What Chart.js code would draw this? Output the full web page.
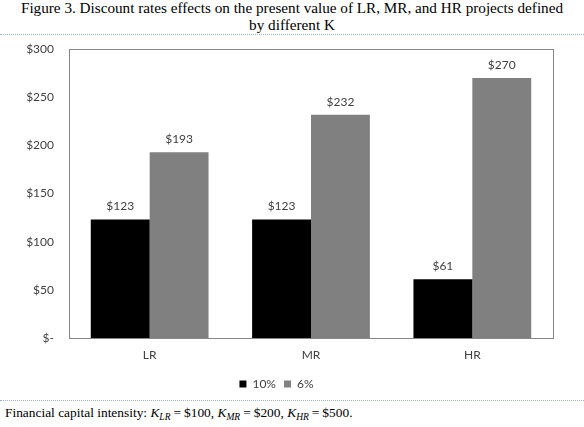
<!DOCTYPE html>
<html><head><meta charset="utf-8">
<script src="https://cdn.jsdelivr.net/npm/chart.js@4.4.1/dist/chart.umd.min.js"></script>
<style>
html,body{margin:0;padding:0;background:#fff;}
#wrap{position:relative;width:584px;height:427px;overflow:hidden;}
#title{position:absolute;left:0;top:-1px;width:584px;text-align:center;font-family:"Liberation Serif",serif;font-size:15.2px;line-height:17px;color:#000;}
.dots{position:absolute;left:0;width:584px;height:0;border-top:1px dotted #9fb3c8;}
#cv{position:absolute;left:0;top:27px;}
#foot{position:absolute;left:5px;top:405px;font-family:"Liberation Serif",serif;font-size:13.4px;line-height:16px;color:#000;white-space:nowrap;}
#foot sub{font-size:9.5px;vertical-align:-3px;line-height:0;}
.eq{margin:0 3px;}
</style></head>
<body><div id="wrap">
<div id="title">Figure 3. Discount rates effects on the present value of LR, MR, and HR projects defined<br>by different K</div>
<canvas id="cv" width="584" height="373"></canvas>
<div class="dots" style="top:34px"></div>
<div class="dots" style="top:400px"></div>
<div id="foot">Financial capital intensity: <i>K</i><sub><i>LR</i></sub><span class="eq">=</span>$100, <i>K</i><sub><i>MR</i></sub><span class="eq">=</span>$200, <i>K</i><sub><i>HR</i></sub><span class="eq">=</span>$500.</div>
</div>
<script>
const categories = ["LR", "MR", "HR"];
const seriesNames = ["10%", "6%"];
const rate10 = [123, 123, 61];
const rate6 = [193, 232, 270];
const yTicks = [0, 50, 100, 150, 200, 250, 300];

function money(v){ return v === 0 ? "$-" : "$" + v; }

const boxPlugin = {
  id: "box",
  afterDatasetsDraw(chart){
    const {ctx, chartArea:a} = chart;
    ctx.save();
    ctx.strokeStyle = "#868686";
    ctx.lineWidth = 1;
    ctx.strokeRect(Math.round(a.left)+0.5, Math.round(a.top)+0.5, Math.round(a.right-a.left), Math.round(a.bottom-a.top));
    ctx.fillStyle = "#404040";
    ctx.font = "12px Lato";
    ctx.textAlign = "center";
    ctx.textBaseline = "bottom";
    chart.data.datasets.forEach((ds, i) => {
      chart.getDatasetMeta(i).data.forEach((bar, j) => {
        ctx.fillText(money(ds.data[j]), bar.x, bar.y - 7);
      });
    });
    ctx.restore();
  }
};

new Chart(document.getElementById("cv"), {
  type: "bar",
  data: {
    labels: categories,
    datasets: [
      {label: seriesNames[0], data: rate10, backgroundColor: "#000000", categoryPercentage: 0.73, barPercentage: 1.0},
      {label: seriesNames[1], data: rate6, backgroundColor: "#808080", categoryPercentage: 0.73, barPercentage: 1.0}
    ]
  },
  options: {
    responsive: false,
    animation: false,
    devicePixelRatio: 1,
    layout: {padding: {top: 9, right: 31, left: 0, bottom: 0}},
    plugins: {
      tooltip: {enabled: false},
      title: {display: false},
      legend: {
        position: "bottom",
        labels: {boxWidth: 7, boxHeight: 7, padding: 8, color: "#404040", font: {family: "Lato", size: 12}}
      }
    },
    scales: {
      x: {
        grid: {display: false, drawTicks: false},
        border: {display: false},
        ticks: {color: "#404040", font: {family: "Lato", size: 12}, padding: 10},
        afterFit(s){ s.height = 32; }
      },
      y: {
        min: 0, max: 300,
        afterBuildTicks(s){ s.ticks = yTicks.map(v => ({value: v})); },
        grid: {display: false, drawTicks: false},
        border: {display: false},
        ticks: {color: "#404040", font: {family: "Lato", size: 12}, padding: 15, callback: v => money(v)},
        afterFit(s){ s.width = 69; }
      }
    }
  },
  plugins: [boxPlugin]
});
</script>
</body></html>
